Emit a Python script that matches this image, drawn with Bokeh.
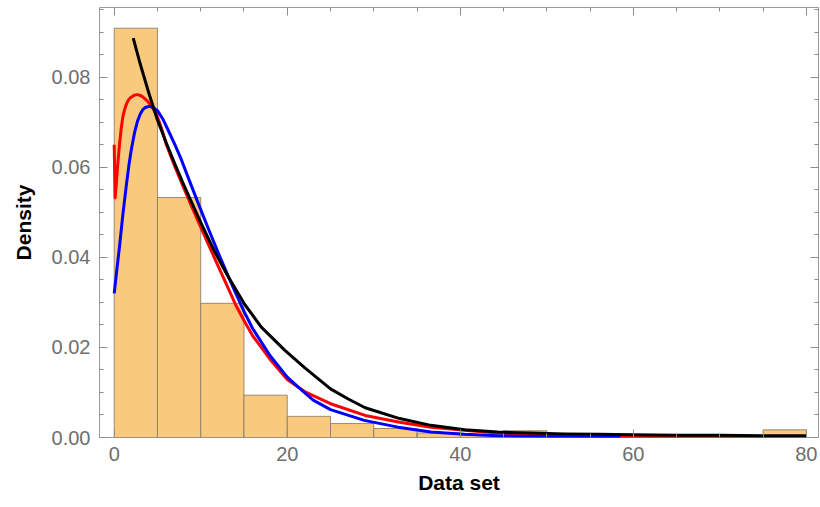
from bokeh.plotting import figure
from bokeh.models import (Range1d, LinearAxis, SingleIntervalTicker,
                          NumeralTickFormatter, CustomJSTickFormatter)
from bokeh.embed import file_html
from bokeh.resources import INLINE

# ---- data ----
bin_left = [0, 5, 10, 15, 20, 25, 30, 35, 40, 45, 50, 55, 60, 65, 70, 75]
bin_right = [5, 10, 15, 20, 25, 30, 35, 40, 45, 50, 55, 60, 65, 70, 75, 80]
density = [0.0909, 0.0533, 0.0298, 0.0094, 0.0047, 0.0031, 0.0020, 0.0010,
           0.0005, 0.0015, 0.0, 0.0, 0.0, 0.0, 0.0, 0.0017]

red_x = [0.0, 0.1, 0.25, 0.4, 0.6, 0.8, 1.0, 1.2, 1.4, 1.6, 1.8, 2.05, 2.3,
         2.55, 2.8, 3.1, 3.4, 3.9, 4.5, 5.0, 5.5, 6.0, 7.0, 8.0, 9.0, 10.0,
         11.0, 12.0, 13.0, 14.0, 15.0, 16.0, 18.0, 20.0, 22.0, 25.0, 29.0,
         33.0, 36.6, 40.5, 44.3, 48.2, 52.0, 56.0, 60.0, 70.0, 80.0]
red_y = [0.0650, 0.0532, 0.0565, 0.0605, 0.0648, 0.0685, 0.0712, 0.0728,
         0.0740, 0.0748, 0.0753, 0.0757, 0.0760, 0.0761, 0.0761, 0.0759,
         0.0755, 0.0746, 0.0730, 0.0712, 0.0685, 0.0652, 0.0602, 0.0556,
         0.0511, 0.0467, 0.0424, 0.0381, 0.0339, 0.0296, 0.0260, 0.0226,
         0.0174, 0.0129, 0.0102, 0.0075, 0.0049, 0.0034, 0.0023, 0.0016,
         0.0010, 0.0007, 0.0005, 0.0003, 0.0001, 0.00003, 0.0]

blue_x = [0.0, 0.3, 0.6, 1.0, 1.4, 1.7, 2.0, 2.35, 2.7, 3.0, 3.3, 3.6, 3.9,
          4.2, 4.5, 5.0, 5.6, 6.2, 7.0, 7.7, 8.8, 10.0, 11.0, 12.0, 13.0,
          14.0, 15.0, 16.0, 18.0, 20.0, 21.5, 23.0, 25.0, 28.9, 32.8, 36.6,
          40.5, 44.3, 48.2, 52.0, 58.5]
blue_y = [0.0320, 0.0372, 0.0422, 0.0495, 0.0560, 0.0605, 0.0642, 0.0677,
          0.0703, 0.0718, 0.0728, 0.0733, 0.0735, 0.0735, 0.0733, 0.0726,
          0.0708, 0.0684, 0.0651, 0.0620, 0.0565, 0.0506, 0.0458, 0.0411,
          0.0366, 0.0322, 0.0280, 0.0242, 0.0182, 0.0134, 0.0108, 0.0083,
          0.0062, 0.0038, 0.0023, 0.0012, 0.0007, 0.0004, 0.0002, 0.0001,
          0.0]

black_x = [2.2, 3.0, 4.0, 5.0, 6.0, 7.0, 8.0, 9.0, 10.0, 11.5, 13.0, 15.0,
           17.0, 19.7, 22.0, 25.0, 27.0, 29.0, 33.0, 36.6, 40.5, 44.3, 48.2,
           52.0, 56.0, 60.0, 65.0, 70.0, 75.0, 80.0]
black_y = [0.0887, 0.0830, 0.0765, 0.0705, 0.0655, 0.0608, 0.0563, 0.0520,
           0.0478, 0.0417, 0.0363, 0.0298, 0.0245, 0.0194, 0.0155, 0.0108,
           0.0086, 0.0066, 0.0042, 0.0027, 0.0017, 0.0012, 0.0010, 0.0008,
           0.0007, 0.0006, 0.0005, 0.0005, 0.0004, 0.0004]

x_label = "Data set"
y_label = "Density"

FONT = "Liberation Sans"
TICK_COLOR = "#8c8c8c"
LABEL_COLOR = "#6e6e6e"

p = figure(width=820, height=507, x_range=Range1d(-1.7, 81.4),
           y_range=Range1d(0, 0.0955), output_backend="svg",
           toolbar_location=None, min_border_left=99, min_border_right=2,
           min_border_top=7, min_border_bottom=70)
p.background_fill_color = "white"
p.border_fill_color = "white"
p.outline_line_color = "#9a9a9a"
p.outline_line_width = 1
p.xgrid.visible = False
p.ygrid.visible = False

p.quad(left=bin_left, right=bin_right, top=density, bottom=0,
       fill_color="#F9CA7E", line_color="#857561", line_width=0.8)

p.line(red_x, red_y, line_color="#FF0000", line_width=3, line_join="round")
p.line(blue_x, blue_y, line_color="#0000FF", line_width=3, line_join="round")
p.line(black_x, black_y, line_color="#000000", line_width=3, line_join="round")


def style(ax, show_labels):
    ax.axis_line_color = None
    ax.major_tick_in = 8
    ax.major_tick_out = 0
    ax.minor_tick_in = 4
    ax.minor_tick_out = 0
    ax.major_tick_line_color = TICK_COLOR
    ax.minor_tick_line_color = TICK_COLOR
    if show_labels:
        ax.major_label_text_font = FONT
        ax.major_label_text_font_size = "20px"
        ax.major_label_text_color = LABEL_COLOR
        ax.major_label_standoff = 9
        ax.axis_label_text_font = FONT
        ax.axis_label_text_font_size = "21px"
        ax.axis_label_text_font_style = "bold"
        ax.axis_label_text_color = "black"
    else:
        ax.formatter = CustomJSTickFormatter(code="return ''")
        ax.major_label_standoff = 0


xa = p.xaxis[0]
xa.ticker = SingleIntervalTicker(interval=20, num_minor_ticks=4)
xa.axis_label = x_label
style(xa, True)
xa.axis_label_standoff = 7

ya = p.yaxis[0]
ya.ticker = SingleIntervalTicker(interval=0.02, num_minor_ticks=4)
ya.formatter = NumeralTickFormatter(format="0.00")
ya.axis_label = y_label
style(ya, True)
ya.axis_label_standoff = 14

top_ax = LinearAxis(ticker=SingleIntervalTicker(interval=20, num_minor_ticks=4))
style(top_ax, False)
p.add_layout(top_ax, "above")
right_ax = LinearAxis(ticker=SingleIntervalTicker(interval=0.02, num_minor_ticks=4))
style(right_ax, False)
p.add_layout(right_ax, "right")

open("out.html", "w").write(file_html(p, INLINE))
